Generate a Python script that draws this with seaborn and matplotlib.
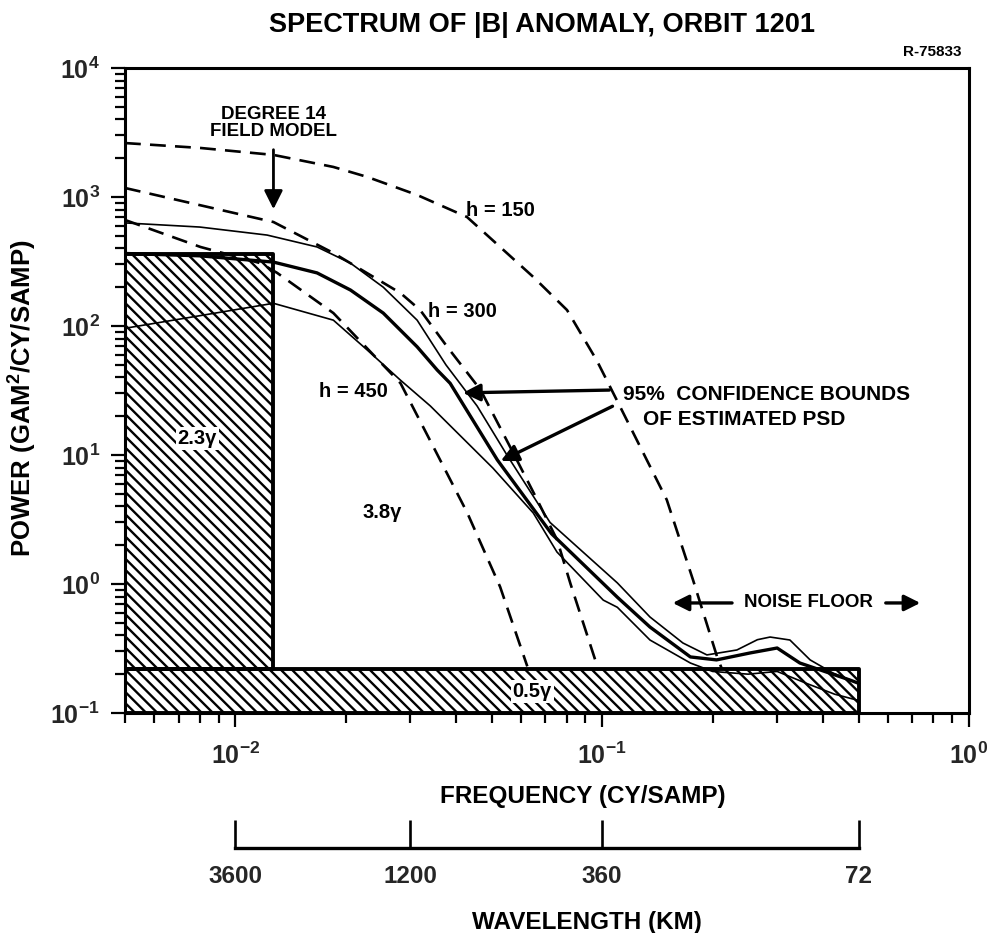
import numpy as np
import matplotlib
matplotlib.use("Agg")
import matplotlib.pyplot as plt
import seaborn as sns
from matplotlib.ticker import LogLocator, NullLocator, NullFormatter, FixedLocator

# theoretical anomaly spectra for three altitudes (dashed)
freq_h150 = [0.005, 0.00803, 0.0127, 0.0185, 0.0229, 0.0313, 0.0428, 0.0527, 0.0649,
             0.0802, 0.0967, 0.112, 0.150, 0.177, 0.206, 0.212]
pow_h150 = [2620, 2400, 2120, 1710, 1430, 1037, 700, 410, 240, 133, 54, 23.6, 4.5,
            1.07, 0.27, 0.22]

freq_h300 = [0.005, 0.0127, 0.0185, 0.0282, 0.0319, 0.0378, 0.0466, 0.0572, 0.0665,
             0.0754, 0.082, 0.097]
pow_h300 = [1175, 640, 368, 180, 133, 69, 32, 10.4, 4.5, 2.19, 1.0, 0.23]

freq_h450 = [0.005, 0.00803, 0.0117, 0.013, 0.0185, 0.0282, 0.0347, 0.0429, 0.0527, 0.0625]
pow_h450 = [664, 410, 307, 258, 126, 36, 11.5, 3.55, 0.95, 0.23]

# estimated PSD and its 95% confidence bounds (solid)
freq_upper = [0.005, 0.008, 0.0122, 0.0167, 0.0206, 0.0253, 0.0313, 0.0375, 0.0456,
              0.055, 0.0721, 0.110, 0.135, 0.166, 0.193, 0.233, 0.265, 0.287, 0.325,
              0.369, 0.426, 0.5]
pow_upper = [630, 585, 507, 410, 307, 200, 111, 50, 24, 10, 3.0, 1.02, 0.555, 0.349,
             0.282, 0.308, 0.37, 0.388, 0.368, 0.258, 0.204, 0.17]

freq_est = [0.005, 0.008, 0.0127, 0.0167, 0.0206, 0.0253, 0.0313, 0.0355, 0.0385,
            0.0518, 0.0728, 0.110, 0.135, 0.174, 0.205, 0.253, 0.300, 0.346, 0.474, 0.5]
pow_est = [365, 350, 313, 258, 190, 126, 69, 45.6, 36, 9.15, 2.45, 0.79, 0.464, 0.272,
           0.258, 0.292, 0.319, 0.244, 0.18, 0.17]

freq_lower = [0.005, 0.0127, 0.0185, 0.0229, 0.0282, 0.034, 0.0504, 0.0649, 0.0753,
              0.1007, 0.110, 0.135, 0.174, 0.2, 0.25, 0.3, 0.36, 0.43, 0.5]
pow_lower = [96, 150, 111, 65, 38, 24, 7.9, 3.55, 1.77, 0.75, 0.66, 0.368, 0.244, 0.21,
             0.2, 0.21, 0.17, 0.14, 0.125]

# hatched regions: degree 14 field model box and noise floor band
field_model_f = [0.005, 0.0127]
field_model_top = 360
noise_floor_f = [0.005, 0.5]
noise_floor = 0.22
y_bottom = 0.1

# wavelength scale below the frequency axis
wave_km = [3600, 1200, 360, 72]
sample_km = 36
wave_freq = [sample_km / w for w in wave_km]

sns.set_theme(style="white")
plt.rcParams['font.family'] = ['Liberation Sans', 'DejaVu Sans']
plt.rcParams['font.weight'] = 'bold'
plt.rcParams['mathtext.fontset'] = 'custom'
plt.rcParams['mathtext.rm'] = 'Liberation Sans:bold'
plt.rcParams['mathtext.it'] = 'Liberation Sans:bold:italic'
plt.rcParams['mathtext.bf'] = 'Liberation Sans:bold'
plt.rcParams['hatch.linewidth'] = 1.7
plt.rcParams['hatch.color'] = 'black'

fig = plt.figure(figsize=(9.99, 9.33), dpi=100)
ax = fig.add_axes([0.1251, 0.2358, 0.8448, 0.6913])
ax.set_xscale('log')
ax.set_yscale('log')
ax.set_xlim(0.005, 1)
ax.set_ylim(0.1, 1e4)

# hatched areas
ax.fill_between(field_model_f, noise_floor, field_model_top, facecolor='none',
                edgecolor='black', hatch='\\\\\\', linewidth=2.8, zorder=1)
ax.fill_between(noise_floor_f, y_bottom, noise_floor, facecolor='none',
                edgecolor='black', hatch='\\\\\\', linewidth=2.8, zorder=1)

dash = (0, (6, 3.5))
for fx, py in [(freq_h150, pow_h150), (freq_h300, pow_h300), (freq_h450, pow_h450)]:
    sns.lineplot(x=fx, y=py, ax=ax, color='black', linewidth=1.9, linestyle=dash,
                 sort=False, errorbar=None, zorder=2)
sns.lineplot(x=freq_upper, y=pow_upper, ax=ax, color='black', linewidth=1.2,
             sort=False, errorbar=None, zorder=2)
sns.lineplot(x=freq_est, y=pow_est, ax=ax, color='black', linewidth=2.4,
             sort=False, errorbar=None, zorder=2)
sns.lineplot(x=freq_lower, y=pow_lower, ax=ax, color='black', linewidth=1.2,
             sort=False, errorbar=None, zorder=2)

# axes styling
for s in ax.spines.values():
    s.set_color('black')
    s.set_linewidth(2.2)
ax.xaxis.set_major_locator(LogLocator(base=10, numticks=10))
ax.yaxis.set_major_locator(LogLocator(base=10, numticks=10))
ax.xaxis.set_minor_locator(LogLocator(base=10, subs=np.arange(2, 10), numticks=20))
ax.yaxis.set_minor_locator(LogLocator(base=10, subs=np.arange(2, 10), numticks=20))
ax.xaxis.set_minor_formatter(NullFormatter())
ax.yaxis.set_minor_formatter(NullFormatter())
ax.tick_params(which='both', bottom=True, left=True, top=False, right=False,
               direction='out', color='black', width=1.6)
ax.tick_params(which='major', length=10, labelsize=18)
ax.tick_params(which='minor', length=7)
ax.tick_params(axis='x', which='major', pad=11)
ax.tick_params(axis='y', which='major', pad=8)
ax.set_xlabel('')
ax.set_ylabel('')

# annotations
txt = dict(color='black', fontweight='bold')
ax.text(0.0127, 3750, 'DEGREE 14\nFIELD MODEL', ha='center', va='center',
        fontsize=13.5, linespacing=1.05, **txt)
ax.annotate('', xy=(0.0127, 766), xytext=(0.0127, 2445),
            arrowprops=dict(arrowstyle='-|>', color='black', lw=2, mutation_scale=28))
ax.text(0.0527, 792, 'h = 150', ha='center', va='center', fontsize=14.5, **txt)
ax.text(0.0416, 130, 'h = 300', ha='center', va='center', fontsize=14.5, **txt)
ax.text(0.021, 30.8, 'h = 450', ha='center', va='center', fontsize=14.5, **txt)
ax.text(0.00787, 13.5, '2.3γ', ha='center', va='center', fontsize=14.5, zorder=3,
        bbox=dict(facecolor='white', edgecolor='none', pad=1.5), **txt)
ax.text(0.0251, 3.6, '3.8γ', ha='center', va='center', fontsize=14.5, **txt)
ax.text(0.0645, 0.146, '0.5γ', ha='center', va='center', fontsize=14.5, zorder=3,
        bbox=dict(facecolor='white', edgecolor='none', pad=1.5), **txt)
ax.text(0.114, 29.2, '95%  CONFIDENCE BOUNDS', ha='left', va='center', fontsize=15,
        zorder=3, bbox=dict(facecolor='white', edgecolor='none', pad=1), **txt)
ax.text(0.129, 18.7, 'OF ESTIMATED PSD', ha='left', va='center', fontsize=15, **txt)
ax.annotate('', xy=(0.041, 30.3), xytext=(0.1064, 31.9),
            arrowprops=dict(arrowstyle='-|>', color='black', lw=2.4, mutation_scale=26))
ax.annotate('', xy=(0.0521, 8.8), xytext=(0.1084, 24.4),
            arrowprops=dict(arrowstyle='-|>', color='black', lw=2.4, mutation_scale=26))
ax.text(0.366, 0.713, 'NOISE FLOOR', ha='center', va='center', fontsize=13.5, **txt)
ax.annotate('', xy=(0.153, 0.713), xytext=(0.230, 0.713),
            arrowprops=dict(arrowstyle='-|>', color='black', lw=2.4, mutation_scale=24))
ax.annotate('', xy=(0.75, 0.713), xytext=(0.583, 0.713),
            arrowprops=dict(arrowstyle='-|>', color='black', lw=2.4, mutation_scale=24))

# wavelength scale
ax2 = fig.add_axes([0.1251, 0.0911, 0.8448, 0.0001])
ax2.set_xscale('log')
ax2.set_xlim(0.005, 1)
ax2.patch.set_visible(False)
for k in ['top', 'left', 'right']:
    ax2.spines[k].set_visible(False)
ax2.spines['bottom'].set_bounds(wave_freq[0], wave_freq[-1])
ax2.spines['bottom'].set_linewidth(2.4)
ax2.spines['bottom'].set_color('black')
ax2.xaxis.set_major_locator(FixedLocator(wave_freq))
ax2.xaxis.set_minor_locator(NullLocator())
ax2.set_xticklabels([str(w) for w in wave_km])
ax2.set_yticks([])
ax2.tick_params(axis='x', which='major', bottom=True, direction='in', length=20,
                width=1.9, color='black', pad=12, labelsize=17.5)

fig.text(440 / 999, 1 - 796 / 933, 'FREQUENCY (CY/SAMP)', ha='left', va='center',
         fontsize=17.5, **txt)
fig.text(472 / 999, 1 - 922 / 933, 'WAVELENGTH (KM)', ha='left', va='center',
         fontsize=17.5, **txt)
fig.text(23 / 999, 1 - 398 / 933, 'POWER (GAM$^2$/CY/SAMP)', rotation=90, ha='center',
         va='center', fontsize=18.5, **txt)
fig.text(542 / 999, 1 - 25 / 933, 'SPECTRUM OF |B| ANOMALY, ORBIT 1201', ha='center',
         va='center', fontsize=19.5, **txt)
fig.text(962 / 999, 1 - 52 / 933, 'R-75833', ha='right', va='center', fontsize=11, **txt)

fig.savefig('out.png', dpi=100, facecolor='white')
